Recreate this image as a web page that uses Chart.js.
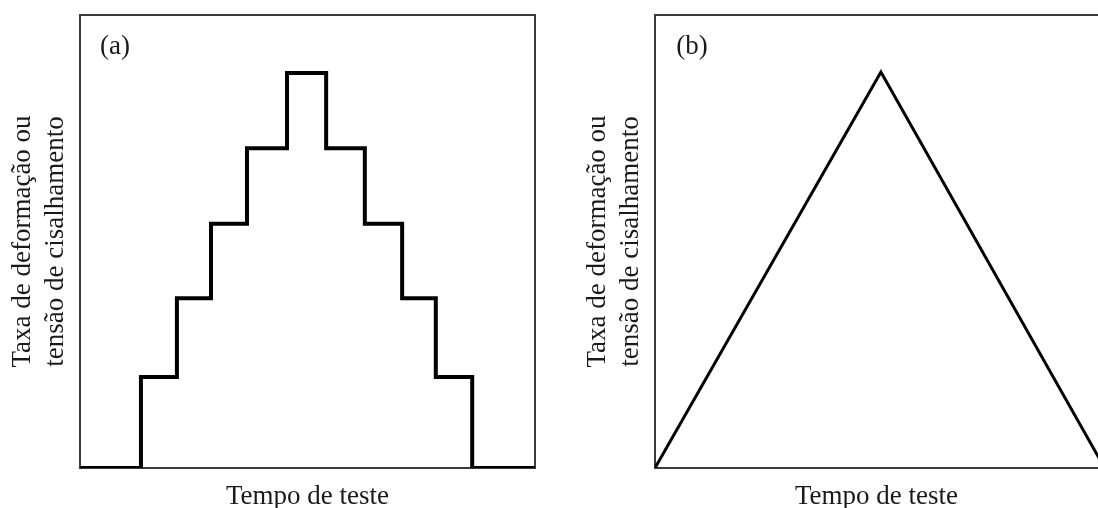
<!DOCTYPE html>
<html>
<head>
<meta charset="utf-8">
<script src="https://cdn.jsdelivr.net/npm/chart.js@4/dist/chart.umd.min.js"></script>
<style>
  html, body { margin: 0; padding: 0; background: #fff; overflow: hidden; }
  #wrap { position: relative; width: 1098px; height: 508px; overflow: hidden; }
  canvas { position: absolute; top: 0; }
  #a { left: 0; }
  #b { left: 575px; }
</style>
</head>
<body>
<div id="wrap">
  <canvas id="a" width="560" height="520"></canvas>
  <canvas id="b" width="523" height="520"></canvas>
</div>
<script>
// (a) stepped test: time in % of test, level in % of plot height
const stepTimes = [0, 13.4, 21.3, 28.8, 36.7, 45.5, 54.1, 62.6, 70.8, 78.2, 86.2, 100];
const stepLevels = [0, 20.1, 37.5, 53.9, 70.6, 87.2, 70.6, 53.9, 37.5, 20.1, 0, 0];

// (b) continuous ramp up / down
const rampTimes = [0, 51.0, 101.5];
const rampLevels = [0, 87.4, 0];

const yTitle = ["Taxa de deformação ou", "tensão de cisalhamento"];
const xTitle = "Tempo de teste";

const serif = "'Liberation Serif', 'DejaVu Serif', serif";
const textColor = "#1a1a1a";
const frameColor = "#3a3a3a";

// panel letter inside the plot area
const panelTag = {
  id: "panelTag",
  afterDraw(chart, args, opts) {
    const { ctx, chartArea } = chart;
    ctx.save();
    ctx.font = "27px " + serif;
    ctx.fillStyle = textColor;
    ctx.textAlign = "center";
    ctx.textBaseline = "middle";
    ctx.fillText(opts.text, chartArea.left + opts.dx, chartArea.top + opts.dy);
    ctx.restore();
  }
};

function frameAxis(position, extra) {
  return Object.assign({
    type: "linear",
    position: position,
    min: 0,
    max: 100,
    ticks: { display: false },
    grid: { display: false, drawTicks: false, tickLength: 0 },
    border: { display: true, color: frameColor, width: 2 }
  }, extra || {});
}

function makeChart(id, xs, ys, opts) {
  const points = xs.map((x, i) => ({ x: x, y: ys[i] }));
  const scales = {
    x: frameAxis("bottom", {
      title: {
        display: true,
        text: xTitle,
        color: textColor,
        font: { family: serif, size: 27, lineHeight: 1.2 },
        padding: { top: 12.8, bottom: 6.8 }
      }
    }),
    y: frameAxis("left", {
      title: {
        display: true,
        text: yTitle,
        color: textColor,
        font: { family: serif, size: 27, lineHeight: 1.22 },
        padding: { top: 6.5, bottom: 7.6 }
      }
    }),
    x2: frameAxis("top")
  };
  if (opts.rightFrame) scales.y2 = frameAxis("right");

  return new Chart(document.getElementById(id), {
    type: "line",
    data: {
      datasets: [{
        data: points,
        borderColor: "#000",
        borderWidth: opts.lineWidth,
        borderJoinStyle: "miter",
        borderCapStyle: "butt",
        stepped: opts.stepped,
        pointRadius: 0,
        tension: 0,
        fill: false
      }]
    },
    options: {
      responsive: false,
      animation: false,
      events: [],
      layout: { padding: { top: 15, left: 0, right: opts.padRight, bottom: 0 } },
      scales: scales,
      plugins: {
        legend: { display: false },
        tooltip: { enabled: false },
        panelTag: opts.tag
      }
    },
    plugins: [panelTag]
  });
}

makeChart("a", stepTimes, stepLevels, {
  stepped: "before",
  lineWidth: 4,
  padRight: 25,
  rightFrame: true,
  tag: { text: "(a)", dx: 35, dy: 32 }
});

makeChart("b", rampTimes, rampLevels, {
  stepped: false,
  lineWidth: 3,
  padRight: 0,
  rightFrame: false,
  tag: { text: "(b)", dx: 37, dy: 32 }
});
</script>
</body>
</html>
